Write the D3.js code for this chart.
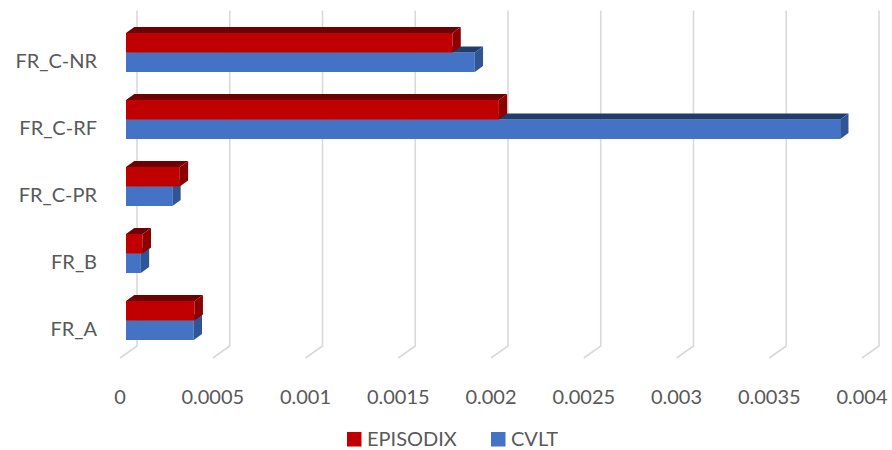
<!DOCTYPE html>
<html><head><meta charset="utf-8">
<script src="https://cdn.jsdelivr.net/npm/d3@7"></script>
<style>body{margin:0;background:#fff}svg{display:block}text{font-family:Lato,"Open Sans",sans-serif;fill:#595959}</style>
</head><body><svg id="c" width="892" height="450"></svg>
<script>
const categories = ["FR_C-NR", "FR_C-RF", "FR_C-PR", "FR_B", "FR_A"];
const seriesNames = ["EPISODIX", "CVLT"];
const episodix = [0.00176, 0.00201, 0.00029, 0.00009, 0.00037];
const cvlt = [0.00188, 0.00385, 0.00025, 0.00008, 0.000365];
const ticks = [0, 0.0005, 0.001, 0.0015, 0.002, 0.0025, 0.003, 0.0035, 0.004];
const tickLabels = ["0", "0.0005", "0.001", "0.0015", "0.002", "0.0025", "0.003", "0.0035", "0.004"];

const colors = {
  EPISODIX: {front: "#C00000", top: "#6E0000", side: "#8C0000"},
  CVLT: {front: "#4472C4", top: "#203C6C", side: "#2F5597"}
};
const svg = d3.select("#c");
const x = d3.scaleLinear().domain([0, 0.004]).range([126, 868]);
const y = d3.scaleBand().domain(categories).range([19, 354]).paddingInner(0.418).paddingOuter(0.209);
const ys = d3.scaleBand().domain(seriesNames).range([0, y.bandwidth()]);
const dx = 8.3, dy = 6;
const backOff = 11, gridTop = 10.5, gridBot = 346, floorDx = 17, floorDy = 12;

// gridlines (back wall + floor)
const g = svg.append("g");
ticks.forEach(t => {
  const bx = x(t) + backOff;
  g.append("path")
    .attr("d", `M${bx},${gridTop}L${bx},${gridBot}L${bx - floorDx},${gridBot + floorDy}`)
    .attr("fill", "none").attr("stroke", "#D9D9D9").attr("stroke-width", 1.6);
});

// bars: draw CVLT (lower) first, then EPISODIX
const data = {EPISODIX: episodix, CVLT: cvlt};
const bars = svg.append("g");
["CVLT", "EPISODIX"].forEach(s => {
  categories.forEach((c, i) => {
    const v = data[s][i];
    const x0 = x(0), x1 = x(v);
    const yt = y(c) + ys(s), yb = yt + ys.bandwidth();
    const col = colors[s];
    bars.append("rect").attr("x", x0).attr("y", yt).attr("width", x1 - x0).attr("height", yb - yt).attr("fill", col.front);
    bars.append("path").attr("d", `M${x0},${yt}L${x0 + dx},${yt - dy}L${x1 + dx},${yt - dy}L${x1},${yt}Z`).attr("fill", col.top);
    bars.append("path").attr("d", `M${x1},${yt}L${x1 + dx},${yt - dy}L${x1 + dx},${yb - dy}L${x1},${yb}Z`).attr("fill", col.side);
  });
});

// category labels
categories.forEach(c => {
  svg.append("text").attr("x", 97).attr("y", y(c) + ys.bandwidth() + 15.5)
    .attr("text-anchor", "end").attr("font-size", 20).text(c);
});

// tick labels
ticks.forEach((t, i) => {
  svg.append("text").attr("x", x(t) - 6).attr("y", 404).attr("text-anchor", "middle")
    .attr("font-size", 20).text(tickLabels[i]);
});

// legend
const leg = [{s: "EPISODIX", x: 347}, {s: "CVLT", x: 491}];
leg.forEach(l => {
  svg.append("rect").attr("x", l.x).attr("y", 432).attr("width", 14.5).attr("height", 14.5).attr("fill", colors[l.s].front);
  svg.append("text").attr("x", l.x + 20).attr("y", 446).attr("font-size", 20).text(l.s);
});
</script></body></html>
